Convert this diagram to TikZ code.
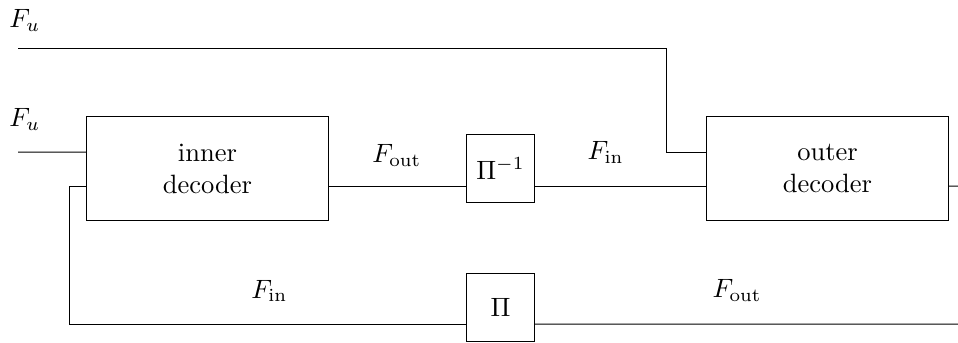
\documentclass[tikz,border=0pt]{standalone}
\usepackage{amsmath, amssymb}

\begin{document}
\begin{tikzpicture}
	\tikzstyle{decoderStyle} = [draw, minimum width = 3.2cm, minimum height = 1.38cm, inner sep = 0pt, align = center]
	\tikzstyle{permStyle} = [draw, minimum size = 0.9cm, inner sep = 0pt]
	\useasboundingbox (0,0) rectangle (12.70,4.547);
	\node[decoderStyle] (inner) at (2.75, 2.31) {inner\\decoder};
	\node[decoderStyle] (outer) at (10.97, 2.31) {outer\\decoder};
	\node[permStyle] (pinv) at (6.635, 2.31) {$\Pi^{-1}$};
	\node[permStyle] (perm) at (6.635, 0.47) {$\Pi$};
	\coordinate (fu1) at (0.24, 3.90);
	\coordinate (fu2) at (0.24, 2.53);
	\coordinate (out) at (12.70, 2.08);
	\coordinate (back) at (12.70, 0.25);
	\node (lfu1) at (0.33, 4.28) {$F_u$};
	\node (lfu2) at (0.33, 2.96) {$F_u$};
	\node (lfout) at (5.26, 2.49) {$F_{\text{out}}$};
	\node (lfin) at (8.03, 2.53) {$F_{\text{in}}$};
	\node (lbin) at (3.57, 0.69) {$F_{\text{in}}$};
	\node (lbout) at (9.77, 0.70) {$F_{\text{out}}$};
	% forward path
	\draw (fu1) -- ++(8.60, 0) |- ([yshift = 2.2mm]outer.west);
	\draw (fu2) -- ([yshift = 2.2mm]inner.west);
	\draw ([yshift = -2.3mm]inner.east) -- ([yshift = -2.3mm]pinv.west);
	\draw ([yshift = -2.3mm]pinv.east) -- ([yshift = -2.3mm]outer.west);
	\draw ([yshift = -2.3mm]outer.east) -- (out);
	% feedback path
	\draw ([yshift = -2.3mm]inner.west) -- ++(-0.22, 0) |- ([yshift = -2.2mm]perm.west);
	\draw ([yshift = -2.2mm]perm.east) -- (back);
\end{tikzpicture}
\end{document}
